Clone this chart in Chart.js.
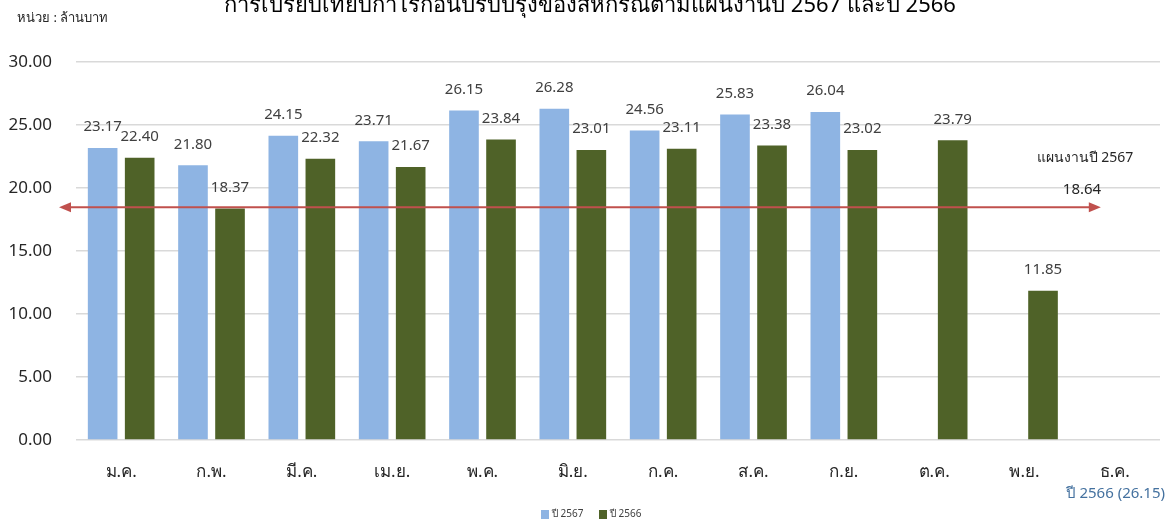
<!DOCTYPE html>
<html>
<head>
<meta charset="utf-8">
<script src="https://cdn.jsdelivr.net/npm/chart.js@4"></script>
<style>
  html, body { margin: 0; padding: 0; background: #fff; }
  #wrap { width: 1173px; height: 522px; position: relative; }
</style>
</head>
<body>
<div id="wrap"><canvas id="myChart"></canvas></div>
<script>
const months = ['ม.ค.', 'ก.พ.', 'มี.ค.', 'เม.ย.', 'พ.ค.', 'มิ.ย.', 'ก.ค.', 'ส.ค.', 'ก.ย.', 'ต.ค.', 'พ.ย.', 'ธ.ค.'];
const profit2567 = [23.17, 21.80, 24.15, 23.71, 26.15, 26.28, 24.56, 25.83, 26.04, null, null, null];
const profit2566 = [22.40, 18.37, 22.32, 21.67, 23.84, 23.01, 23.11, 23.38, 23.02, 23.79, 11.85, null];
const plan2567 = 18.64;
const dec2566 = 26.15;
const yTicks = [0, 5, 10, 15, 20, 25, 30];

const FONT = "'Noto Sans', 'DejaVu Sans', sans-serif";

// value labels, plan arrow, legend, title and the extra texts
const extras = {
  id: 'extras',
  afterDatasetsDraw(chart) {
    const ctx = chart.ctx;
    const x = chart.scales.x, y = chart.scales.y;

    ctx.save();
    ctx.font = '15px ' + FONT;
    ctx.fillStyle = '#404040';
    ctx.textAlign = 'center';
    ctx.textBaseline = 'middle';
    chart.data.datasets.forEach((ds, i) => {
      chart.getDatasetMeta(i).data.forEach((bar, j) => {
        if (ds.data[j] == null) return;
        ctx.fillText(ds.data[j].toFixed(2), bar.x, bar.y - 21);
      });
    });

    // plan line with arrow heads
    const py = y.getPixelForValue(plan2567) + 2;
    const x1 = chart.chartArea.left - 17;
    const x2 = x.getPixelForValue(11) - 14;
    ctx.strokeStyle = '#c0504d';
    ctx.fillStyle = '#c0504d';
    ctx.lineWidth = 2;
    ctx.beginPath();
    ctx.moveTo(x1 + 10, py);
    ctx.lineTo(x2 - 10, py);
    ctx.stroke();
    ctx.beginPath();
    ctx.moveTo(x1, py); ctx.lineTo(x1 + 12, py - 5); ctx.lineTo(x1 + 12, py + 5);
    ctx.closePath(); ctx.fill();
    ctx.beginPath();
    ctx.moveTo(x2, py); ctx.lineTo(x2 - 12, py - 5); ctx.lineTo(x2 - 12, py + 5);
    ctx.closePath(); ctx.fill();

    ctx.fillStyle = '#262626';
    ctx.font = '14px ' + FONT;
    ctx.fillText('แผนงานปี 2567', 1085, 158);
    ctx.font = '15px ' + FONT;
    ctx.fillText(plan2567.toFixed(2), 1082, 190);

    // title, cut at the top edge
    ctx.font = '22px ' + FONT;
    ctx.fillStyle = '#000';
    ctx.textBaseline = 'alphabetic';
    ctx.fillText('การเปรียบเทียบกำไรก่อนปรับปรุงของสหกรณ์ตามแผนงานปี 2567 และปี 2566', 590, 12);

    ctx.textAlign = 'left';
    ctx.font = '13px ' + FONT;
    ctx.fillStyle = '#262626';
    ctx.textBaseline = 'middle';
    ctx.fillText('หน่วย : ล้านบาท', 17, 18);

    // legend
    ctx.font = '10px ' + FONT;
    ctx.fillStyle = '#404040';
    let lx = 541;
    chart.data.datasets.forEach(ds => {
      ctx.fillStyle = ds.backgroundColor;
      ctx.fillRect(lx, 510, 8, 9);
      ctx.fillStyle = '#404040';
      ctx.fillText(ds.label, lx + 11, 514);
      lx += 58;
    });

    ctx.textAlign = 'right';
    ctx.font = '15px ' + FONT;
    ctx.fillStyle = '#44719f';
    ctx.fillText('ปี 2566 (' + dec2566.toFixed(2) + ')', 1165, 494);
    ctx.restore();
  }
};

const ctx = document.getElementById('myChart').getContext('2d');
const myChart = new Chart(ctx, {
  type: 'bar',
  data: {
    labels: months,
    datasets: [
      {
        label: 'ปี 2567',
        data: profit2567,
        backgroundColor: '#8eb4e3',
        categoryPercentage: 0.82,
        barPercentage: 0.8
      },
      {
        label: 'ปี 2566',
        data: profit2566,
        backgroundColor: '#4f6228',
        categoryPercentage: 0.82,
        barPercentage: 0.8
      }
    ]
  },
  options: {
    responsive: true,
    maintainAspectRatio: false,
    animation: false,
    layout: { padding: { top: 62, right: 13, bottom: 0, left: 0 } },
    plugins: {
      legend: { display: false },
      tooltip: { enabled: false }
    },
    scales: {
      x: {
        grid: { display: false, drawTicks: false },
        border: { display: false },
        ticks: {
          font: { family: FONT, size: 17 },
          color: '#262626',
          padding: 22
        },
        afterFit: scale => { scale.height = 82; }
      },
      y: {
        min: 0,
        max: 30,
        afterBuildTicks: scale => { scale.ticks = yTicks.map(v => ({ value: v })); },
        afterFit: scale => { scale.width = 76; },
        grid: { color: '#d9d9d9', lineWidth: 1.5, drawTicks: false },
        border: { display: false },
        ticks: {
          font: { family: FONT, size: 17 },
          color: '#262626',
          padding: 24,
          callback: v => v.toFixed(2)
        }
      }
    }
  },
  plugins: [extras]
});
</script>
</body>
</html>
